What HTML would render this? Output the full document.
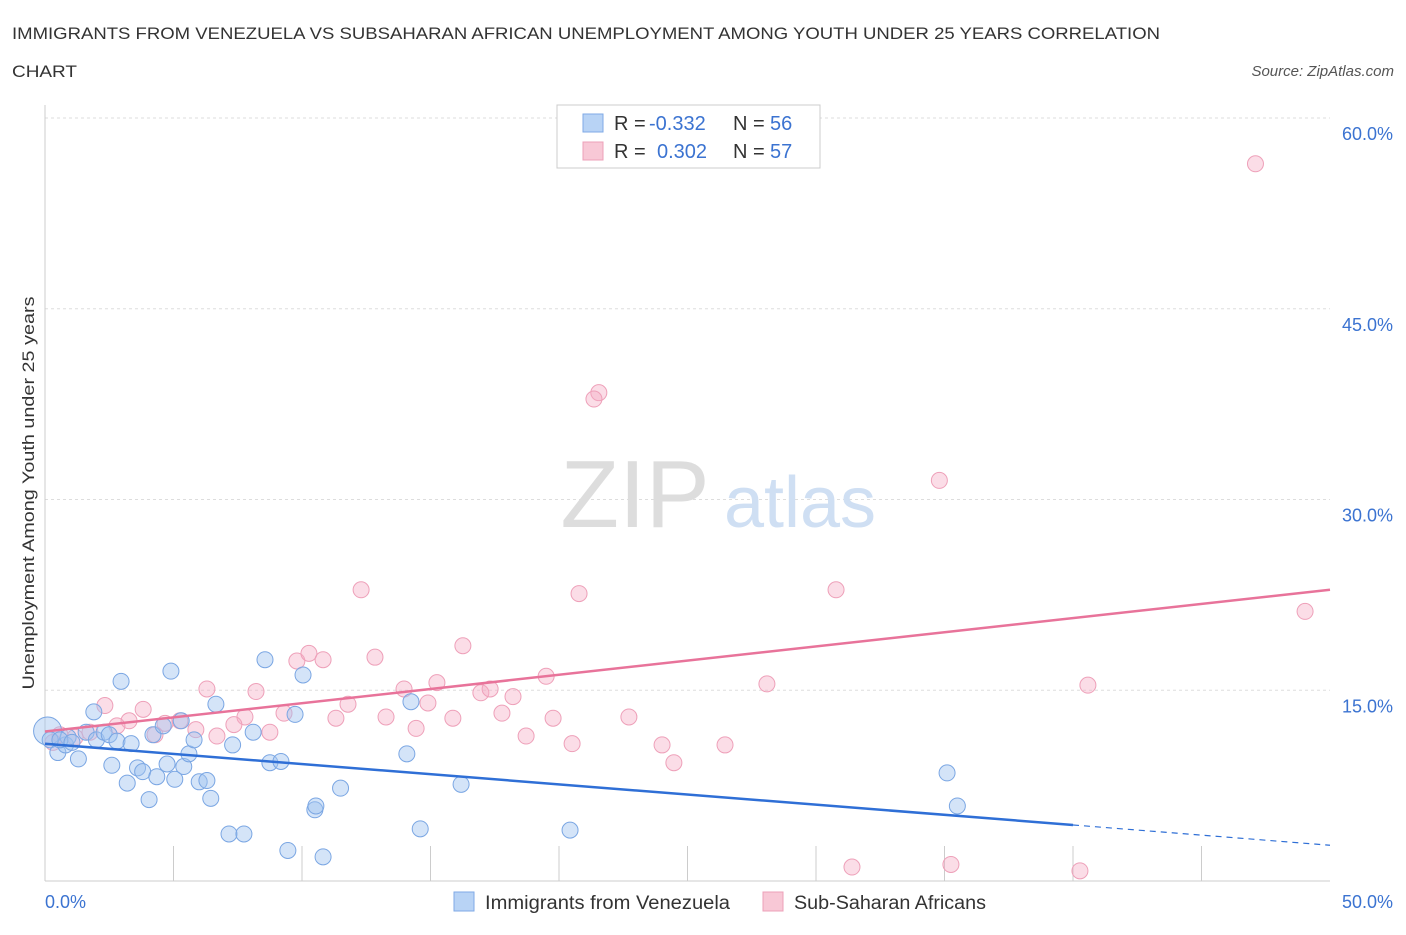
<!DOCTYPE html>
<html><head><meta charset="utf-8"><style>
body{margin:0;background:#fff;font-family:"Liberation Sans",sans-serif;}
svg text{font-family:"Liberation Sans",sans-serif;}
</style></head><body>
<svg width="1406" height="930" xmlns="http://www.w3.org/2000/svg">
<text x="12" y="39" font-size="17" fill="#333" textLength="1148" lengthAdjust="spacingAndGlyphs">IMMIGRANTS FROM VENEZUELA VS SUBSAHARAN AFRICAN UNEMPLOYMENT AMONG YOUTH UNDER 25 YEARS CORRELATION</text>
<text x="12" y="77" font-size="17" fill="#333" textLength="65" lengthAdjust="spacingAndGlyphs">CHART</text>
<text x="1394" y="76" font-size="15" fill="#555" font-style="italic" text-anchor="end">Source: ZipAtlas.com</text>
<g id="grid"></g>
<g><text x="635" y="527" font-size="96" fill="#ddd" font-family="Liberation Serif" text-anchor="middle">ZIP</text><text x="800" y="527" font-size="72" fill="#cfdff3" text-anchor="middle">atlas</text></g>
<line x1="45" y1="105" x2="45" y2="881" stroke="#ccc"/>
<line x1="45" y1="881" x2="1330" y2="881" stroke="#ccc"/>
<text transform="translate(34,493) rotate(-90)" font-size="17" fill="#333" text-anchor="middle" textLength="393" lengthAdjust="spacingAndGlyphs">Unemployment Among Youth under 25 years</text>
<text x="45" y="908" font-size="18" fill="#3b73d1">0.0%</text>
<text x="1393" y="908" font-size="18" fill="#3b73d1" text-anchor="end">50.0%</text>
<g id="pts"></g>
<g id="lines"></g>
<g font-size="20">
<rect x="557" y="105" width="263" height="63" fill="#fff" stroke="#ccc"/>
<rect x="583" y="114" width="20" height="18" fill="#b8d3f5" stroke="#7fa9e6"/>
<rect x="583" y="142" width="20" height="18" fill="#f8c8d6" stroke="#eda0b8"/>
<text x="614" y="130" fill="#333">R =</text><text x="649" y="130" fill="#3b73d1">-0.332</text>
<text x="733" y="130" fill="#333">N =</text><text x="770" y="130" fill="#3b73d1">56</text>
<text x="614" y="158" fill="#333">R =</text><text x="657" y="158" fill="#3b73d1">0.302</text>
<text x="733" y="158" fill="#333">N =</text><text x="770" y="158" fill="#3b73d1">57</text>
</g>
<g>
<rect x="454" y="892" width="20" height="19" fill="#b8d3f5" stroke="#7fa9e6"/>
<text x="485" y="909" font-size="19" fill="#333" textLength="245" lengthAdjust="spacingAndGlyphs">Immigrants from Venezuela</text>
<rect x="763" y="892" width="20" height="19" fill="#f8c8d6" stroke="#eda0b8"/>
<text x="794" y="909" font-size="19" fill="#333" textLength="192" lengthAdjust="spacingAndGlyphs">Sub-Saharan Africans</text>
</g>
</svg>
<script>
const yTicks=[15,30,45,60];
const xTicks=[0,5,10,15,20,25,30,35,40,45,50];
const blueX=[0.1,0.2,0.5,0.8,0.9,1.3,1.6,1.9,2.0,2.3,2.5,2.6,2.8,2.96,3.2,3.35,3.6,3.8,4.05,4.2,4.35,4.6,4.75,4.9,5.05,5.3,5.4,5.6,5.8,6.0,6.3,6.45,6.65,7.16,7.3,7.74,8.1,8.56,8.75,9.18,9.45,9.73,10.04,10.5,10.54,10.82,11.5,14.08,14.24,14.6,16.19,20.43,35.1,35.5,0.58,1.05];
const blueY=[11.8,11.1,10.1,10.7,11.3,9.6,11.7,13.3,11.1,11.7,11.5,9.1,11.0,15.7,7.7,10.8,8.9,8.6,6.4,11.5,8.2,12.2,9.2,16.5,8.0,12.6,9.0,10.0,11.1,7.8,7.9,6.5,13.9,3.7,10.7,3.7,11.7,17.4,9.3,9.4,2.4,13.1,16.2,5.6,5.9,1.9,7.3,10.0,14.1,4.1,7.6,4.0,8.5,5.9,11.1,10.9];
const pinkX=[47.1,21.55,21.36,34.8,12.3,20.78,30.78,49.03,16.26,9.8,10.27,10.82,12.84,19.5,28.09,40.58,6.3,8.21,13.97,15.25,16.96,17.32,18.21,11.79,14.9,3.82,2.33,9.3,7.78,11.32,13.27,15.87,17.78,19.77,22.72,5.25,3.27,2.8,7.35,8.75,14.44,5.87,4.28,6.69,1.75,0.58,1.17,18.72,20.51,24.01,26.46,24.47,31.4,35.25,40.27,0.31,4.67];
const pinkY=[56.4,38.4,37.9,31.5,22.9,22.6,22.9,21.2,18.5,17.3,17.9,17.4,17.6,16.1,15.5,15.4,15.1,14.9,15.1,15.6,14.8,15.1,14.5,13.9,14.0,13.5,13.8,13.2,12.9,12.8,12.9,12.8,13.2,12.8,12.9,12.6,12.6,12.2,12.3,11.7,12.0,11.9,11.5,11.4,11.7,11.5,11.3,11.4,10.8,10.7,10.7,9.3,1.1,1.3,0.8,10.9,12.4];
const X0=45,X1=1330,Y0=881,Y1=118;
const sx=v=>X0+(v/50)*(X1-X0), sy=v=>Y0-(v/60)*(Y0-Y1);
const NS="http://www.w3.org/2000/svg";
function mk(t,a,p){const e=document.createElementNS(NS,t);for(const k in a)e.setAttribute(k,a[k]);p.appendChild(e);return e;}
const grid=document.getElementById('grid');
yTicks.forEach(t=>{
 const l=mk('line',{x1:45,x2:1330,y1:sy(t),y2:sy(t),stroke:'#ddd','stroke-dasharray':'3,3'},grid);
 
 
 const tx=mk('text',{x:1393,y:sy(t)+22,'font-size':18,fill:'#3b73d1','text-anchor':'end'},grid);
 tx.textContent=t.toFixed(1)+'%';
 
 
});
xTicks.forEach(t=>{
 const l=mk('line',{x1:sx(t),x2:sx(t),y1:881,y2:881,stroke:'#ccc'},grid);
 if(t>0&&t<50){l.setAttribute('y1',846);}
 
 
});
const pts=document.getElementById('pts');
pinkX.forEach((x,i)=>{
 const c=mk('circle',{cx:sx(x),cy:sy(pinkY[i]),r:8,fill:'rgba(244,170,195,0.4)',stroke:'#eea0b9','stroke-width':1},pts);
 
 
});
blueX.forEach((x,i)=>{
 const c=mk('circle',{cx:sx(x),cy:sy(blueY[i]),r:i==0?14:8,fill:'rgba(160,195,240,0.45)',stroke:'#7aa6e3','stroke-width':1},pts);
 
 
});
const ln=document.getElementById('lines');
function fit(xs,ys){const n=xs.length;let mx=0,my=0;xs.forEach((x,i)=>{mx+=x;my+=ys[i];});mx/=n;my/=n;let a=0,b=0;xs.forEach((x,i)=>{a+=(x-mx)*(ys[i]-my);b+=(x-mx)**2;});const s=a/b;return [s,my-s*mx];}
const bf=fit(blueX,blueY), pf=fit(pinkX,pinkY);
let l=mk('line',{x1:sx(0),y1:sy(bf[1]),x2:sx(40),y2:sy(bf[1]+bf[0]*40),stroke:'#2f6fd6','stroke-width':2.5},ln);


l=mk('line',{x1:sx(40),y1:sy(bf[1]+bf[0]*40),x2:sx(50),y2:sy(bf[1]+bf[0]*50),stroke:'#2f6fd6','stroke-width':1.2,'stroke-dasharray':'6,5'},ln);


l=mk('line',{x1:sx(0),y1:sy(pf[1]),x2:sx(50),y2:sy(pf[1]+pf[0]*50),stroke:'#e8739a','stroke-width':2.5},ln);


</script>
</body></html>
